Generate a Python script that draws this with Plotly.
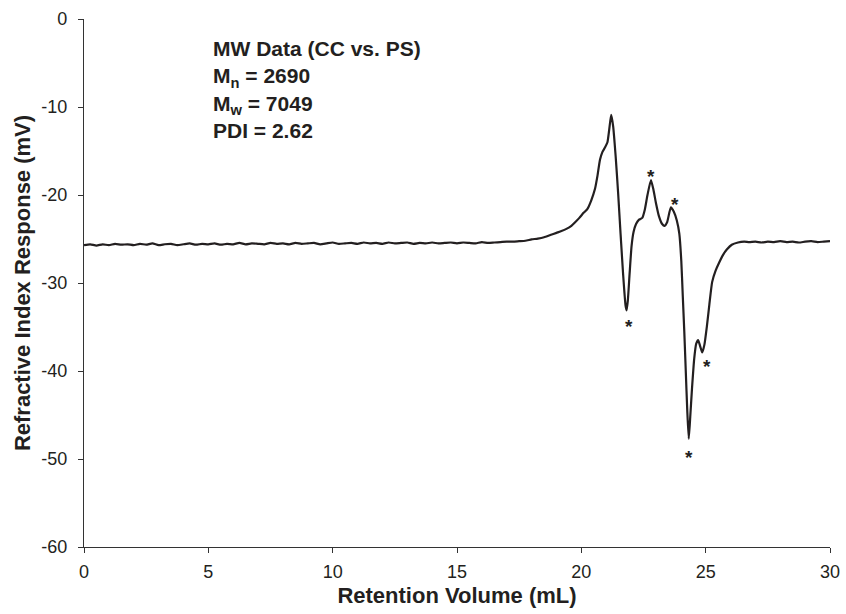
import plotly.graph_objects as go

# Baseline before the peaks (retention volume mL, response mV)
base_left_x = [0, 0.25, 0.5, 0.75, 1, 1.25, 1.5, 1.75, 2, 2.25, 2.5, 2.75, 3, 3.25, 3.5, 3.75,
               4, 4.25, 4.5, 4.75, 5, 5.25, 5.5, 5.75, 6, 6.25, 6.5, 6.75, 7, 7.25, 7.5, 7.75,
               8, 8.25, 8.5, 8.75, 9, 9.25, 9.5, 9.75, 10, 10.25, 10.5, 10.75, 11, 11.25, 11.5,
               11.75, 12, 12.25, 12.5, 12.75, 13, 13.25, 13.5, 13.75, 14, 14.25, 14.5, 14.75,
               15, 15.25, 15.5, 15.75, 16, 16.25, 16.5, 16.75, 17]
base_left_y = [-25.7, -25.6, -25.75, -25.6, -25.7, -25.55, -25.65, -25.6, -25.7, -25.55,
               -25.65, -25.5, -25.7, -25.6, -25.55, -25.7, -25.6, -25.5, -25.65, -25.55,
               -25.6, -25.5, -25.65, -25.55, -25.6, -25.45, -25.6, -25.5, -25.55, -25.6,
               -25.45, -25.55, -25.5, -25.6, -25.45, -25.55, -25.5, -25.45, -25.6, -25.5,
               -25.4, -25.55, -25.5, -25.45, -25.55, -25.4, -25.5, -25.45, -25.55, -25.4,
               -25.5, -25.45, -25.4, -25.55, -25.45, -25.5, -25.4, -25.5, -25.45, -25.4,
               -25.5, -25.4, -25.45, -25.5, -25.35, -25.45, -25.4, -25.35, -25.3]

# Peak region
peak_x = [17.25, 17.5, 17.75, 18.0, 18.25, 18.5, 18.75, 19.0, 19.2, 19.4, 19.6, 19.75, 19.92,
          20.1, 20.24, 20.4, 20.55, 20.65, 20.75, 20.85, 20.95, 21.05, 21.12, 21.2, 21.28,
          21.38, 21.48, 21.58, 21.68, 21.78, 21.82, 21.87, 21.94, 22.02, 22.1, 22.2, 22.32,
          22.45, 22.55, 22.66, 22.8, 22.9, 23.0, 23.12, 23.25, 23.35, 23.45, 23.6, 23.72,
          23.84, 23.94, 24.02, 24.08, 24.14, 24.2, 24.26, 24.32, 24.38, 24.45, 24.54, 24.62,
          24.7, 24.78, 24.86, 24.95, 25.05, 25.15, 25.26, 25.4, 25.54, 25.7, 25.85, 26.05,
          26.3, 26.55]
peak_y = [-25.3, -25.25, -25.2, -25.05, -24.95, -24.8, -24.55, -24.3, -24.1, -23.85, -23.5,
          -23.1, -22.6, -22.0, -21.6, -20.6, -19.3, -17.8, -16.0, -15.1, -14.6, -14.0, -12.6,
          -10.9, -12.2, -15.6, -19.8, -24.5, -29.0, -32.6, -33.1, -32.0, -29.0, -25.8, -24.2,
          -23.3, -22.8, -22.6, -21.7, -20.0, -18.3, -19.4, -20.9, -22.4, -23.3, -23.5, -23.1,
          -21.4, -21.9, -22.9, -24.4, -27.5, -31.5, -35.5, -40.0, -44.5, -47.7, -45.2, -42.0,
          -38.6, -36.9, -36.5, -37.2, -37.9, -37.0, -34.9, -32.4, -29.9, -28.6, -27.7, -26.8,
          -26.2, -25.65, -25.4, -25.3]

# Baseline after the peaks
base_right_x = [26.75, 27, 27.25, 27.5, 27.75, 28, 28.25, 28.5, 28.75, 29, 29.25, 29.5, 29.75, 30]
base_right_y = [-25.35, -25.3, -25.4, -25.3, -25.35, -25.25, -25.35, -25.3, -25.4, -25.3,
                -25.25, -25.35, -25.3, -25.25]

# Asterisk marks (peak labels)
star_x = [22.8, 23.76, 21.91, 25.05, 24.33]
star_y = [-17.5, -20.7, -34.6, -39.2, -49.5]

info_lines = ["MW Data (CC vs. PS)", "M<sub>n</sub> = 2690", "M<sub>w</sub> = 7049", "PDI = 2.62"]

x_ticks = [0, 5, 10, 15, 20, 25, 30]
y_ticks = [0, -10, -20, -30, -40, -50, -60]
y_tick_text = ["0", "-10", "-20", "-30", "-40", "-50", "-60"]

x_all = base_left_x + peak_x + base_right_x
y_all = base_left_y + peak_y + base_right_y

ink = "#231f20"
font_family = "Liberation Sans, Arial, sans-serif"

fig = go.Figure()
fig.add_trace(go.Scatter(x=x_all, y=y_all, mode="lines",
                         line=dict(color=ink, width=2.2, shape="spline", smoothing=0.5),
                         showlegend=False, hoverinfo="skip"))

for sx, sy in zip(star_x, star_y):
    fig.add_annotation(x=sx, y=sy, xref="x", yref="y", text="<b>*</b>", showarrow=False,
                       font=dict(family=font_family, size=19, color=ink),
                       xanchor="center", yanchor="middle", yshift=-3)

fig.add_annotation(x=5.1, y=-1.85, xref="x", yref="y",
                   text="<br>".join("<b>" + s + "</b>" for s in info_lines),
                   showarrow=False, align="left", xanchor="left", yanchor="top",
                   font=dict(family=font_family, size=21, color=ink))

fig.update_layout(
    width=846, height=614,
    margin=dict(l=84, r=16, t=19, b=67, autoexpand=False),
    paper_bgcolor="white", plot_bgcolor="white",
    font=dict(family=font_family, color=ink),
    xaxis=dict(range=[0, 30], tickvals=x_ticks, automargin=False,
               showgrid=False, zeroline=False, showline=True, linecolor="#333333", linewidth=1.2,
               ticks="outside", ticklen=5, tickcolor="#333333", tickwidth=1.2,
               tickfont=dict(size=18, color=ink, family=font_family),
               ticklabelstandoff=3,
               title=dict(text="<b>Retention Volume (mL)</b>", standoff=6,
                          font=dict(size=22, color=ink, family=font_family))),
    yaxis=dict(range=[-60, 0], tickvals=y_ticks, ticktext=y_tick_text, automargin=False,
               showgrid=False, zeroline=False, showline=True, linecolor="#333333", linewidth=1.2,
               ticks="outside", ticklen=5, tickcolor="#333333", tickwidth=1.2,
               tickfont=dict(size=18, color=ink, family=font_family),
               ticklabelstandoff=7,
               title=dict(text="<b>Refractive Index Response (mV)</b>", standoff=4,
                          font=dict(size=22, color=ink, family=font_family))),
)

fig.write_html("out.html")
